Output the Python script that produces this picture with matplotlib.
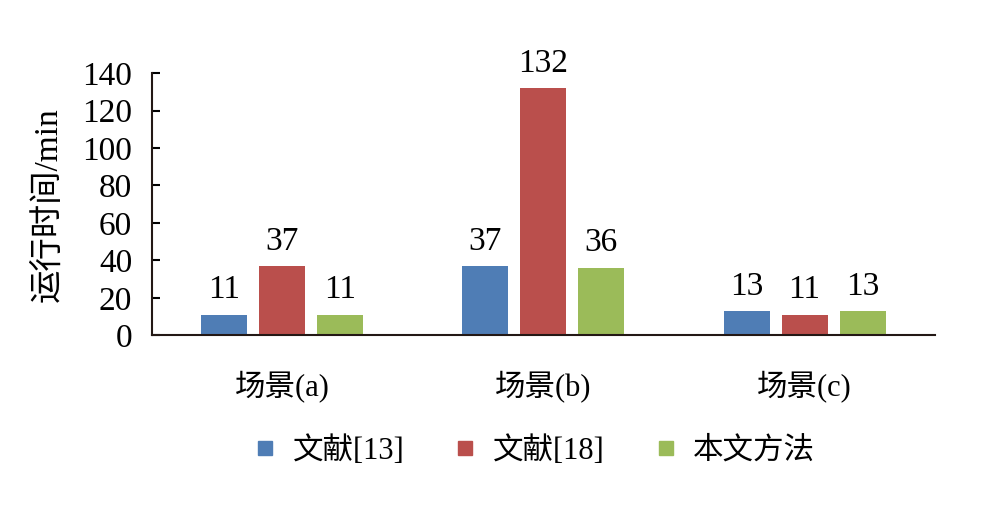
import numpy as np
import matplotlib
matplotlib.use("Agg")
import matplotlib.pyplot as plt
from matplotlib.lines import Line2D

plt.rcParams['font.family'] = ['Liberation Serif', 'Noto Sans CJK SC']

scenes = ['场景(a)', '场景(b)', '场景(c)']
series = ['文献[13]', '文献[18]', '本文方法']
ref13 = [11, 37, 13]
ref18 = [37, 132, 11]
ours = [11, 36, 13]
colors = ['#4F7DB5', '#BA4F4C', '#9BBB59']

fig = plt.figure(figsize=(9.98, 5.11), dpi=100)
ax = fig.add_axes([0.152, 0.344, 0.785, 0.513])

x = np.arange(len(scenes))
w = 0.176
step = 0.222
for i, (vals, c) in enumerate(zip([ref13, ref18, ours], colors)):
    pos = x + (i - 1) * step
    bars = ax.bar(pos, vals, w, color=c)
    for b, v in zip(bars, vals):
        ax.text(b.get_x() + b.get_width() / 2, v + 5, str(v),
                ha='center', va='bottom', fontsize=24)

ax.set_xlim(-0.5, 2.5)
ax.set_ylim(0, 140)
ax.set_yticks(range(0, 141, 20))
ax.tick_params(axis='y', direction='in', length=6, width=1.5, labelsize=24, pad=14)
ax.tick_params(axis='x', length=0, labelsize=22, pad=26)
ax.set_xticks(x)
ax.set_xticklabels(scenes)
for s in ['top', 'right']:
    ax.spines[s].set_visible(False)
for s in ['left', 'bottom']:
    ax.spines[s].set_linewidth(1.5)
    ax.spines[s].set_color('#231815')

ax.set_ylabel('运行时间/min', fontsize=24, labelpad=4)
ax.yaxis.set_label_coords(-0.113, 0.5)

handles = [Line2D([], [], marker='s', linestyle='none', markersize=10,
                  markerfacecolor=c, markeredgecolor=c) for c in colors]
fig.legend(handles, series, loc='center', bbox_to_anchor=(0.535, 0.118),
           ncol=3, frameon=False, fontsize=22, handlelength=0.8,
           handletextpad=0.5, columnspacing=1.6)

fig.savefig('out.png', dpi=100)
